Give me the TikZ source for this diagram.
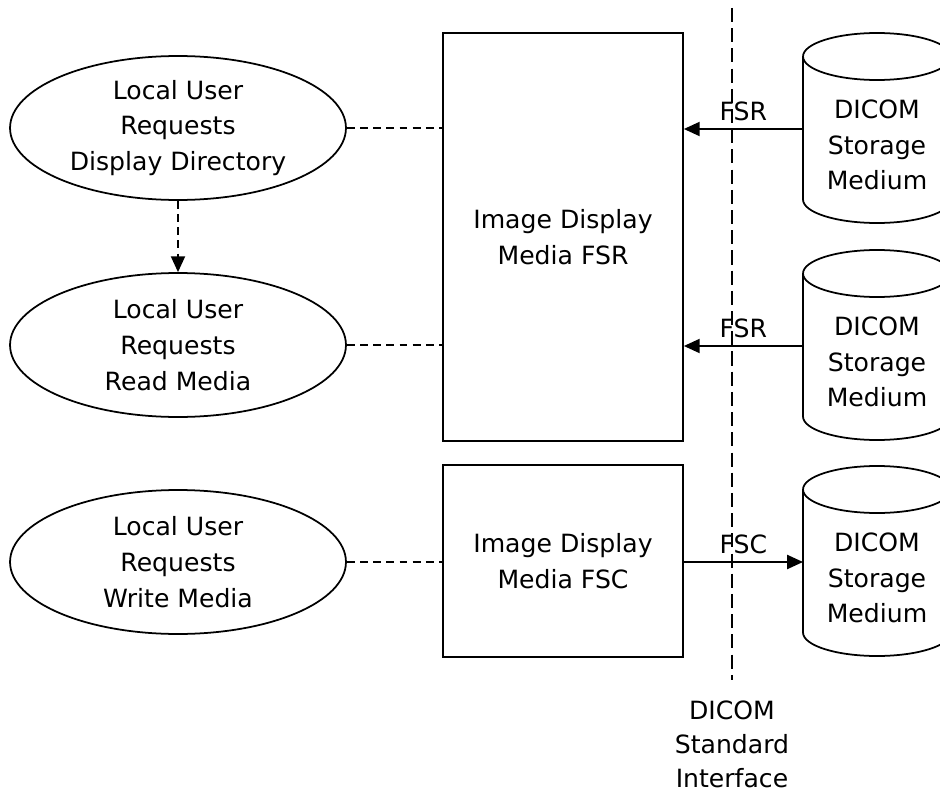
\documentclass[tikz,border=0pt]{standalone}
\usepackage{fontspec}
\setmainfont{DejaVu Sans}
\usetikzlibrary{arrows.meta,shapes.geometric}

\tikzset{
  usecase/.style={draw, ellipse, line width=1pt, inner sep=0pt,
    minimum width=6.72cm, minimum height=2.88cm, align=center},
  appbox/.style={draw, rectangle, line width=1pt, inner sep=0pt,
    minimum width=4.8cm, align=center},
  assoc/.style={line width=1pt, dash pattern=on 4.5pt off 3pt},
  flow/.style={line width=1pt, -{Triangle[length=9pt,width=8pt]}}
}

\begin{document}
\begin{tikzpicture}[x=0.02cm, y=-0.02cm,
    every node/.style={font=\fontsize{14.3}{20.3}\selectfont}]
          \useasboundingbox (0,0) rectangle (940,794);
          % left column
          \node[usecase] (dispdir) at (178,128) {Local User\\Requests\\Display Directory};
          \node[usecase] (readmed) at (178,345) {Local User\\Requests\\Read Media};
          \node[usecase] (writemed) at (178,562) {Local User\\Requests\\Write Media};
          % application entities
          \node[appbox, minimum height=8.16cm] (fsr) at (563,237) {Image Display\\Media FSR};
          \node[appbox, minimum height=3.84cm] (fsc) at (563,561) {Image Display\\Media FSC};
          % storage media
          \foreach \n/\c in {med1/128, med2/345, med3/561} {
            \draw[line width=1pt] (803,\c-71.5) -- (803,\c+71.5)
              arc[start angle=180, end angle=360, x radius=1.48cm, y radius=0.47cm]
              -- (951,\c-71.5);
            \draw[line width=1pt] (877,\c-71.5) ellipse [x radius=1.48cm, y radius=0.47cm];
            \node[align=center] (\n) at (877,\c+17) {DICOM\\Storage\\Medium};
            \coordinate (\n w) at (803,\c+1);
          }
          % interface
          \coordinate (itop) at (732,8);
          \coordinate (ibot) at (732,680);
          \draw[line width=1pt, dash pattern=on 8pt off 3.5pt] (itop) -- (ibot);
          \node[align=center, font=\fontsize{14.3}{19.4}\selectfont] (iface) at (732,744) {DICOM\\Standard\\Interface};

          \draw[assoc] (dispdir.east) -- (dispdir.east -| fsr.west);
          \draw[assoc] (readmed.east) -- (readmed.east -| fsr.west);
          \draw[assoc] (writemed.east) -- (writemed.east -| fsc.west);
          \draw[assoc, -{Triangle[length=9pt,width=8pt]}] (dispdir.south) -- (readmed.north);

          \draw[flow] (med1w) -- (med1w -| fsr.east) node[midway, above=1pt] {FSR};
          \draw[flow] (med2w) -- (med2w -| fsr.east) node[midway, above=1pt] {FSR};
          \draw[flow] (med3w -| fsc.east) -- (med3w) node[midway, above=1pt] {FSC};
        \end{tikzpicture}
\end{document}
